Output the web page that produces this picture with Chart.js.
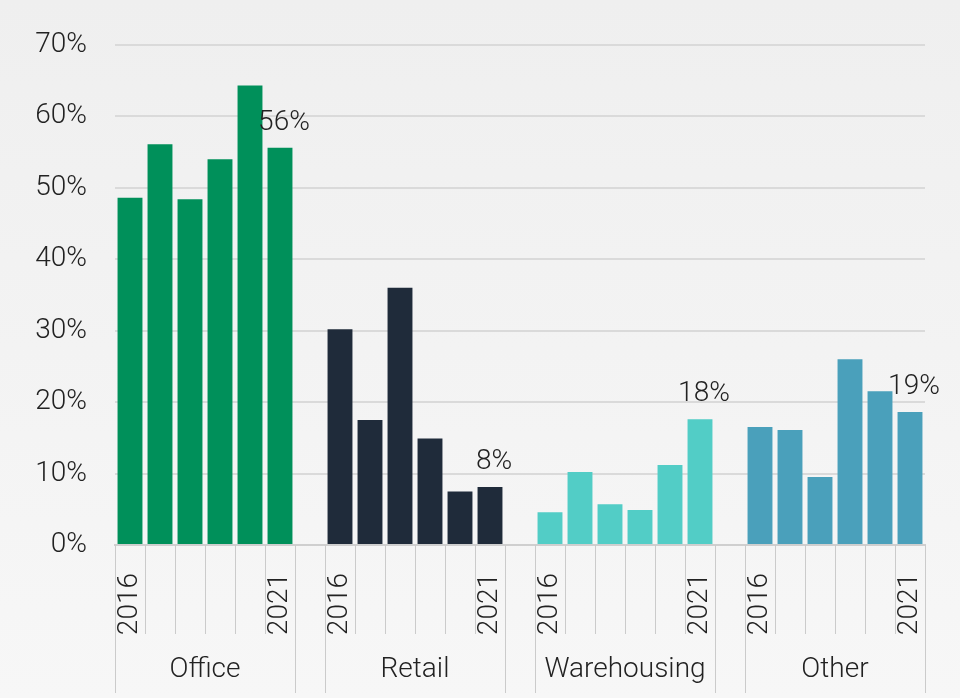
<!DOCTYPE html>
<html>
<head>
<meta charset="utf-8">
<script src="https://cdn.jsdelivr.net/npm/chart.js@4/dist/chart.umd.min.js"></script>
<style>
  html, body { margin: 0; padding: 0; }
  body { width: 960px; height: 698px; background: linear-gradient(#efefef, #f7f7f7); }
  canvas { display: block; }
</style>
</head>
<body>
<canvas id="grafico" width="960" height="698"></canvas>
<script>
// dados (%)
const grupos = ["Office", "Retail", "Warehousing", "Other"];
const anos = ["2016", "2017", "2018", "2019", "2020", "2021"];
const anosVisiveis = ["2016", "2021"];

const office =      [48.6, 56.1, 48.4, 54.0, 64.3, 55.6];
const retail =      [30.2, 17.5, 36.0, 14.9, 7.5, 8.1];
const warehousing = [4.6, 10.2, 5.7, 4.9, 11.2, 17.6];
const other =       [16.5, 16.1, 9.5, 26.0, 21.5, 18.6];

const cores = ["#00905a", "#1f2b3a", "#52cdc6", "#4aa0bb"];
const yTicks = [0, 10, 20, 30, 40, 50, 60, 70];

const series = [office, retail, warehousing, other];
const fonte = "Roboto, 'Noto Sans', sans-serif";

// rótulos: 6 anos por grupo + uma categoria vazia entre grupos
const labels = [];
const inicioGrupo = [];
grupos.forEach(function (g, gi) {
    inicioGrupo.push(labels.length);
    anos.forEach(function (a) { labels.push(a); });
    if (gi < grupos.length - 1) labels.push("");
});

const datasets = series.map(function (valores, gi) {
    const data = labels.map(function () { return null; });
    valores.forEach(function (v, i) { data[inicioGrupo[gi] + i] = v; });
    return {
        label: grupos[gi],
        data: data,
        backgroundColor: cores[gi],
        categoryPercentage: 1,
        barPercentage: 0.83
    };
});

const linhasGrupo = {
    id: "linhasGrupo",
    afterDraw: function (chart) {
        const ctx = chart.ctx;
        const xs = chart.scales.x;
        const n = labels.length;
        const w = (xs.right - xs.left) / n;
        const bordas = [];
        inicioGrupo.forEach(function (s) { bordas.push(s, s + anos.length); });
        ctx.save();
        ctx.strokeStyle = "#cbcbcb";
        ctx.lineWidth = 1;
        for (let k = 0; k <= n; k++) {
            const x = Math.round(xs.left + k * w) + 0.5;
            const fim = bordas.indexOf(k) >= 0 ? chart.height - 5 : xs.bottom;
            ctx.beginPath();
            ctx.moveTo(x, xs.top);
            ctx.lineTo(x, fim);
            ctx.stroke();
        }
        ctx.fillStyle = "#222";
        ctx.font = "300 28px " + fonte;
        ctx.textAlign = "center";
        ctx.textBaseline = "middle";
        grupos.forEach(function (g, gi) {
            const x0 = xs.left + inicioGrupo[gi] * w;
            const x1 = x0 + anos.length * w;
            ctx.fillText(g, (x0 + x1) / 2, xs.bottom + 36);
        });
        ctx.restore();
    }
};

const rotulosFinais = {
    id: "rotulosFinais",
    afterDatasetsDraw: function (chart) {
        const ctx = chart.ctx;
        ctx.save();
        ctx.fillStyle = "#222";
        ctx.font = "300 28px " + fonte;
        ctx.textAlign = "center";
        ctx.textBaseline = "alphabetic";
        chart.data.datasets.forEach(function (ds, i) {
            const meta = chart.getDatasetMeta(i);
            const idx = inicioGrupo[i] + anos.length - 1;
            const el = meta.data[idx];
            ctx.fillText(Math.round(ds.data[idx]) + "%", el.x + 4, el.y - 18);
        });
        ctx.restore();
    }
};

new Chart(document.getElementById("grafico"), {
    type: "bar",
    data: { labels: labels, datasets: datasets },
    options: {
        responsive: false,
        animation: false,
        devicePixelRatio: 1,
        layout: { padding: { top: 44, right: 35, bottom: 64, left: 0 } },
        plugins: { legend: { display: false }, tooltip: { enabled: false } },
        scales: {
            x: {
                stacked: true,
                grid: { display: false },
                border: { display: true, color: "#cfcfcf", width: 2 },
                ticks: {
                    autoSkip: false,
                    minRotation: 90,
                    maxRotation: 90,
                    padding: 20,
                    color: "#222",
                    font: { family: fonte, size: 28, weight: "300" },
                    callback: function (v, i) {
                        return anosVisiveis.indexOf(labels[i]) >= 0 ? labels[i] : "";
                    }
                },
                afterFit: function (s) { s.height = 89; s.paddingLeft = 0; s.paddingRight = 0; }
            },
            y: {
                stacked: true,
                min: 0,
                max: 70,
                afterBuildTicks: function (s) {
                    s.ticks = yTicks.map(function (v) { return { value: v }; });
                },
                grid: { color: "#dadada", lineWidth: 2, drawTicks: false },
                border: { display: false },
                ticks: {
                    padding: 28,
                    color: "#222",
                    font: { family: fonte, size: 28, weight: "300" },
                    callback: function (v) { return v + "%"; }
                },
                afterFit: function (s) { s.width = 115; }
            }
        }
    },
    plugins: [linhasGrupo, rotulosFinais]
});
</script>
</body>
</html>
